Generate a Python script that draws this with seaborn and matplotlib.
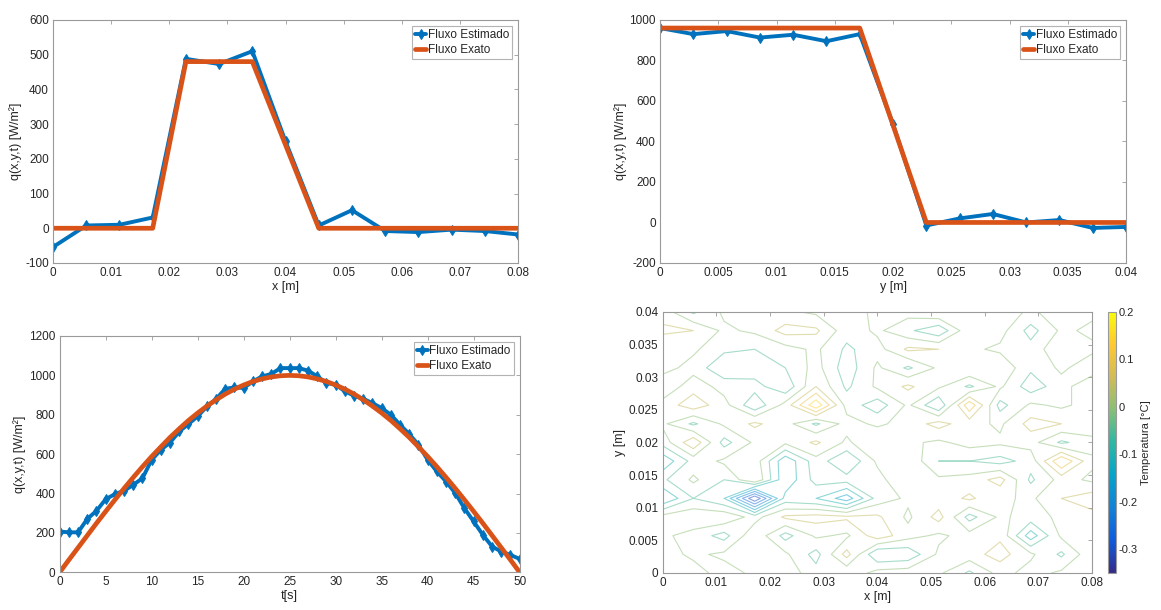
import matplotlib
matplotlib.use("Agg")
import matplotlib.pyplot as plt
import numpy as np
import seaborn as sns
from matplotlib.colors import LinearSegmentedColormap, Normalize
from matplotlib.cm import ScalarMappable
from matplotlib.ticker import FuncFormatter

# --------------------------------------------------------------------------- #
# Data
# --------------------------------------------------------------------------- #

# flux along x (15 grid points, 0 .. 0.08 m)
x_pos = np.linspace(0, 0.08, 15)
qx_est = [-54, 8, 10, 31, 488, 473, 510, 250, 8, 52, -8, -11, -4, -8, -18]
qx_exact = [0, 0, 0, 0, 480, 480, 480, 240, 0, 0, 0, 0, 0, 0, 0]

# flux along y (15 grid points, 0 .. 0.04 m)
y_pos = np.linspace(0, 0.04, 15)
qy_est = [960, 930, 945, 913, 927, 895, 930, 485, -15, 20, 42, 0, 12, -27, -22]
qy_exact = [960, 960, 960, 960, 960, 960, 960, 480, 0, 0, 0, 0, 0, 0, 0]

# flux in time (0 .. 50 s, every second)
t_s = np.arange(0, 51)
qt_est = [207, 203, 203, 271, 312, 371, 397, 414, 444, 478,
          571, 622, 659, 715, 753, 792, 842, 880, 932, 939,
          936, 969, 995, 1007, 1037, 1037, 1037, 1024, 995, 961,
          953, 919, 897, 881, 859, 834, 800, 749, 702, 647,
          571, 512, 461, 402, 325, 258, 190, 131, 105, 88, 68]
qt_exact = [0, 63, 125, 187, 249, 309, 368, 426, 482, 536,
            588, 637, 685, 729, 771, 809, 844, 876, 905, 930,
            951, 969, 982, 992, 998, 1000, 998, 992, 982, 969,
            951, 930, 905, 876, 844, 809, 771, 729, 685, 637,
            588, 536, 482, 426, 368, 309, 249, 187, 125, 63, 0]

# temperature residual field, rows = y index (y = 0 first), cols = x index
temp_res = [
    [0.04, 0.02, -0.02, 0.01, 0.03, -0.03, -0.04, 0.02, 0.03, 0.01, -0.06, 0.02, -0.02, 0.01, 0.02],
    [0.02, -0.01, 0.01, 0.04, 0.01, -0.07, 0.07, -0.10, -0.09, 0.01, 0.03, 0.07, 0.01, -0.06, 0.04],
    [0.01, -0.02, -0.07, 0.04, -0.07, 0.01, -0.01, 0.08, 0.02, -0.01, 0.02, 0.04, -0.13, 0.01, 0.02],
    [0.02, 0.04, 0.04, -0.02, 0.06, 0.07, 0.06, 0.06, -0.01, 0.07, -0.07, 0.01, -0.02, 0.01, 0.03],
    [-0.15, -0.05, -0.10, -0.35, -0.08, -0.10, -0.18, -0.03, 0.01, 0.02, 0.06, 0.01, -0.01, 0.05, 0.08],
    [-0.06, 0.01, -0.05, 0.05, -0.14, -0.03, -0.03, -0.02, 0.05, 0.01, 0.02, 0.07, -0.06, 0.02, -0.01],
    [-0.14, -0.03, 0.01, 0.03, -0.14, -0.02, -0.10, 0.01, 0.04, -0.05, -0.05, -0.07, -0.03, 0.15, 0.01],
    [-0.03, 0.09, -0.07, 0.01, 0.01, 0.06, -0.01, 0.05, 0.01, -0.01, 0.02, 0.01, 0.02, -0.06, -0.02],
    [0.01, -0.06, 0.01, 0.06, 0.02, -0.06, 0.02, -0.01, 0.02, 0.07, 0.02, -0.01, 0.07, 0.05, 0.04],
    [0.02, 0.08, 0.02, -0.09, 0.02, 0.19, -0.02, -0.08, 0.01, -0.10, 0.14, -0.07, 0.01, -0.01, 0.02],
    [-0.04, 0.03, -0.02, -0.03, -0.09, 0.05, -0.06, 0.01, 0.06, 0.01, -0.06, 0.01, -0.08, -0.02, 0.04],
    [0.02, -0.02, -0.09, -0.08, -0.05, 0.02, -0.08, 0.01, -0.06, 0.01, 0.05, 0.04, -0.04, 0.01, -0.03],
    [0.01, 0.01, -0.04, -0.05, -0.02, 0.01, -0.06, -0.02, 0.06, 0.05, 0.01, -0.01, -0.03, 0.04, 0.01],
    [0.06, 0.05, -0.01, 0.01, 0.07, 0.06, -0.03, 0.01, -0.04, -0.09, 0.04, 0.02, -0.07, 0.01, -0.01],
    [0.03, -0.06, 0.01, 0.02, 0.01, -0.01, -0.02, 0.01, 0.02, 0.05, 0.01, 0.03, -0.01, 0.03, 0.01],
]

contour_levels = [-0.3, -0.25, -0.2, -0.15, -0.1, -0.05, 0.0, 0.05, 0.1, 0.15]
cbar_ticks = [-0.3, -0.2, -0.1, 0, 0.1, 0.2]

# --------------------------------------------------------------------------- #
# Style
# --------------------------------------------------------------------------- #

BLUE = (0.0, 0.447, 0.741)
ORANGE = (0.851, 0.325, 0.098)
TXT = "#262626"
SPINE = "#9a9a9a"

sns.set_theme(style="white")
plt.rcParams["font.family"] = ["Liberation Sans", "DejaVu Sans"]
plt.rcParams["font.size"] = 8.5
plt.rcParams["axes.unicode_minus"] = False

parula = LinearSegmentedColormap.from_list("parula", [
    (0.000, "#352A87"), (0.125, "#0F5CDD"), (0.250, "#1481D6"),
    (0.375, "#06A4CA"), (0.500, "#2EB7A4"), (0.625, "#87BF77"),
    (0.750, "#D1BB59"), (0.875, "#FEC832"), (1.000, "#F9FB0E"),
])
gfmt = FuncFormatter(lambda v, p: f"{v:g}")


def matlab_axes(ax, xlim, ylim, xticks, yticks, xlabel, ylabel):
    ax.set_xlim(xlim)
    ax.set_ylim(ylim)
    ax.set_xticks(xticks)
    ax.set_yticks(yticks)
    ax.xaxis.set_major_formatter(gfmt)
    ax.yaxis.set_major_formatter(gfmt)
    ax.tick_params(direction="in", length=3, width=0.6, color=SPINE,
                   labelsize=8.5, labelcolor=TXT, top=True, right=True, pad=3)
    for s in ax.spines.values():
        s.set_color(SPINE)
        s.set_linewidth(0.8)
        s.set_visible(True)
    ax.set_xlabel(xlabel, fontsize=9, color=TXT, labelpad=1)
    ax.set_ylabel(ylabel, fontsize=9, color=TXT, labelpad=2)
    ax.grid(False)


def flux_plot(ax, xs, est, exact):
    sns.lineplot(x=xs, y=est, ax=ax, color=BLUE, lw=2.8, marker="d",
                 markersize=5, markeredgecolor=BLUE, label="Fluxo Estimado")
    sns.lineplot(x=xs, y=exact, ax=ax, color=ORANGE, lw=3.4,
                 label="Fluxo Exato")
    leg = ax.legend(loc="upper right", fontsize=8.5, frameon=True, fancybox=False,
                    handlelength=0.9, handletextpad=0.15, borderpad=0.25,
                    labelspacing=0.25, borderaxespad=0.5)
    leg.get_frame().set_edgecolor("#a0a0a0")
    leg.get_frame().set_linewidth(0.8)
    for t in leg.get_texts():
        t.set_color(TXT)


fig = plt.figure(figsize=(11.61, 6.10), dpi=100)

# --- top left: q along x ---
ax1 = fig.add_axes([0.0457, 0.5689, 0.4005, 0.3984])
flux_plot(ax1, x_pos, qx_est, qx_exact)
matlab_axes(ax1, (0, 0.08), (-100, 600), np.arange(0, 0.081, 0.01),
            np.arange(-100, 601, 100), "x [m]", "q(x,y,t) [W/m²]")

# --- top right: q along y ---
ax2 = fig.add_axes([0.5685, 0.5689, 0.4014, 0.3984])
flux_plot(ax2, y_pos, qy_est, qy_exact)
matlab_axes(ax2, (0, 0.04), (-200, 1000), np.arange(0, 0.0401, 0.005),
            np.arange(-200, 1001, 200), "y [m]", "q(x,y,t) [W/m²]")

# --- bottom left: q in time ---
ax3 = fig.add_axes([0.0514, 0.0618, 0.3962, 0.3874])
flux_plot(ax3, t_s, qt_est, qt_exact)
matlab_axes(ax3, (0, 50), (0, 1200), np.arange(0, 51, 5),
            np.arange(0, 1201, 200), "t[s]", "q(x,y,t) [W/m²]")

# --- bottom right: temperature residual contour ---
ax4 = fig.add_axes([0.5708, 0.0607, 0.3698, 0.4279])
norm = Normalize(vmin=-0.35, vmax=0.2)
Z = np.array(temp_res)
ax4.contour(x_pos, y_pos, Z, levels=contour_levels, cmap=parula, norm=norm,
            linewidths=0.8, alpha=0.5)
matlab_axes(ax4, (0, 0.08), (0, 0.04), np.arange(0, 0.081, 0.01),
            np.arange(0, 0.0401, 0.005), "x [m]", "y [m]")

cax = fig.add_axes([0.9544, 0.0607, 0.0069, 0.4279])
cb = fig.colorbar(ScalarMappable(norm=norm, cmap=parula), cax=cax)
cb.set_ticks(cbar_ticks)
cb.ax.yaxis.set_major_formatter(gfmt)
cb.ax.tick_params(direction="in", length=2, width=0.6, color=SPINE,
                  labelsize=8, labelcolor=TXT, pad=2)
cb.outline.set_edgecolor(SPINE)
cb.outline.set_linewidth(0.8)
cb.set_label("Temperatura [°C]", fontsize=8, color=TXT, labelpad=2)

fig.savefig("out.png", dpi=100)
